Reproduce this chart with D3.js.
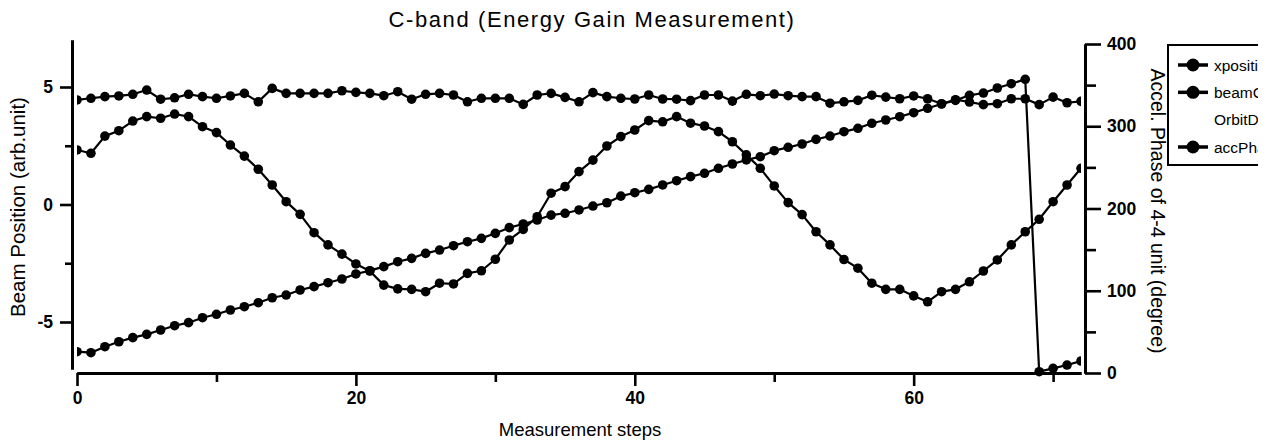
<!DOCTYPE html>
<html>
<head>
<meta charset="utf-8">
<script src="https://cdn.jsdelivr.net/npm/d3@7"></script>
<style>
  html, body { margin: 0; padding: 0; background: #fff; }
  svg { display: block; font-family: "Liberation Sans", Arial, Helvetica, sans-serif; }
</style>
</head>
<body>
<svg id="chart" width="1276" height="448"></svg>
<script>
// Measurement step index for every sample
const steps = d3.range(0, 73);

// Beam position traces (left axis, arb. unit)
const beamCenter = [
  4.45, 4.52, 4.59, 4.62, 4.69, 4.87, 4.48, 4.54, 4.69, 4.59,
  4.52, 4.62, 4.73, 4.37, 4.94, 4.73, 4.73, 4.73, 4.73, 4.84,
  4.77, 4.73, 4.63, 4.80, 4.48, 4.69, 4.73, 4.66, 4.37, 4.52,
  4.52, 4.52, 4.26, 4.66, 4.73, 4.56, 4.37, 4.76, 4.59, 4.52,
  4.49, 4.66, 4.49, 4.48, 4.42, 4.66, 4.66, 4.40, 4.69, 4.63,
  4.70, 4.63, 4.59, 4.59, 4.31, 4.37, 4.43, 4.65, 4.57, 4.50,
  4.62, 4.50, 4.29, 4.46, 4.36, 4.25, 4.29, 4.50, 4.50, 4.25,
  4.57, 4.33, 4.39
];
const xposition = [
  2.32, 2.18, 2.91, 3.14, 3.55, 3.74, 3.67, 3.85, 3.74, 3.31,
  3.06, 2.53, 2.06, 1.50, 0.83, 0.12, -0.42, -1.20, -1.72, -2.11,
  -2.53, -2.83, -3.43, -3.59, -3.61, -3.71, -3.35, -3.38, -2.93, -2.82,
  -2.33, -1.51, -1.06, -0.52, 0.48, 0.76, 1.40, 1.89, 2.49, 2.89,
  3.17, 3.57, 3.52, 3.74, 3.46, 3.34, 3.10, 2.67, 2.11, 1.54,
  0.79, 0.08, -0.43, -1.16, -1.72, -2.34, -2.71, -3.35, -3.61, -3.61,
  -3.89, -4.14, -3.71, -3.61, -3.29, -2.83, -2.36, -1.72, -1.16, -0.63,
  0.12, 0.83, 1.54
];

// Accelerating phase of unit 4-4 (right axis, degree)
const accPhase = [
  25.9, 24.7, 32.0, 38.0, 43.0, 47.0, 52.3, 57.5, 61.2, 67.2,
  71.4, 76.6, 80.6, 85.5, 91.5, 94.8, 100.9, 105.0, 109.8, 114.3,
  120.4, 124.4, 129.3, 135.3, 139.4, 145.5, 149.5, 154.8, 159.6, 163.7,
  169.8, 176.7, 181.2, 186.0, 192.0, 194.2, 198.2, 203.0, 207.0, 215.0,
  219.2, 223.3, 228.6, 233.8, 238.7, 242.8, 248.9, 254.1, 259.0, 263.0,
  270.3, 274.4, 278.4, 284.1, 288.1, 293.4, 297.5, 303.6, 307.6, 311.6,
  316.5, 321.8, 327.0, 331.5, 337.6, 340.4, 346.5, 351.7, 357.1, 1.6,
  5.7, 9.7, 14.6
];

// Axis ticks
const xMajorTicks = [0, 20, 40, 60];
const xMinorTicks = [10, 30, 50, 70];
const yLeftMajorTicks = [-5, 0, 5];
const yLeftMinorTicks = [-2.5, 2.5];
const yRightMajorTicks = [0, 100, 200, 300, 400];
const yRightMinorTicks = [50, 150, 250, 350];

// Legend rows
const legendNames = ["xposition", "beamCenter", "OrbitData", "accPhase"];
const legendHasMarker = [true, true, false, true];

const titleText = "C-band (Energy Gain Measurement)";
const xLabel = "Measurement steps";
const yLeftLabel = "Beam Position (arb.unit)";
const yRightLabel = "Accel. Phase of 4-4 unit (degree)";

// ---------------------------------------------------------------
const svg = d3.select("#chart");
const FONT = '"Liberation Sans", Arial, Helvetica, sans-serif';

const x = d3.scaleLinear().domain([0, 72]).range([77, 1081]);
const yL = d3.scaleLinear().domain([-7, 7]).range([369, 40]);
const yR = d3.scaleLinear().domain([0, 400]).range([373, 44]);

svg.append("rect").attr("width", 1276).attr("height", 448).attr("fill", "#fff");

const defs = svg.append("defs");
defs.append("clipPath").attr("id", "plotClip").append("rect")
  .attr("x", x(0)).attr("y", 34)
  .attr("width", x(72) - x(0)).attr("height", 345);
defs.append("clipPath").attr("id", "legendClip").append("rect")
  .attr("x", 1150).attr("y", 35).attr("width", 108).attr("height", 140);

const plainNumber = d => String(d);

function styleAxis(g) {
  g.attr("font-family", FONT).attr("font-size", 17.5).attr("font-weight", "bold");
  g.selectAll("path.domain").attr("stroke", "#000").attr("stroke-width", 3);
  g.selectAll(".tick line").attr("stroke", "#000").attr("stroke-width", 2.6);
  g.selectAll(".tick text").attr("fill", "#000");
}

// Bottom axis
svg.append("g").attr("transform", "translate(0,373)")
  .call(d3.axisBottom(x).tickValues(xMinorTicks).tickSize(9).tickSizeOuter(0).tickFormat(""))
  .call(styleAxis);
svg.append("g").attr("transform", "translate(0,373)")
  .call(d3.axisBottom(x).tickValues(xMajorTicks).tickSize(13).tickSizeOuter(0)
    .tickPadding(6).tickFormat(plainNumber))
  .call(styleAxis);

// Left axis
svg.append("g").attr("transform", "translate(72,0)")
  .call(d3.axisLeft(yL).tickValues(yLeftMinorTicks).tickSize(7).tickSizeOuter(0).tickFormat(""))
  .call(styleAxis);
svg.append("g").attr("transform", "translate(72,0)")
  .call(d3.axisLeft(yL).tickValues(yLeftMajorTicks).tickSize(12).tickSizeOuter(0)
    .tickPadding(7).tickFormat(plainNumber))
  .call(styleAxis);

// Right axis
svg.append("g").attr("transform", "translate(1085,0)")
  .call(d3.axisRight(yR).tickValues(yRightMinorTicks).tickSize(11).tickSizeOuter(0).tickFormat(""))
  .call(styleAxis);
svg.append("g").attr("transform", "translate(1085,0)")
  .call(d3.axisRight(yR).tickValues(yRightMajorTicks).tickSize(16).tickSizeOuter(0)
    .tickPadding(6).tickFormat(plainNumber))
  .call(styleAxis);

// Data traces
const plot = svg.append("g").attr("clip-path", "url(#plotClip)");

function drawTrace(values, scale) {
  const pts = values.map((v, i) => [x(steps[i]), scale(v)]);
  plot.append("path")
    .attr("d", d3.line()(pts))
    .attr("fill", "none").attr("stroke", "#000")
    .attr("stroke-width", 2.2).attr("stroke-linejoin", "round");
  plot.append("g").selectAll("circle").data(pts).join("circle")
    .attr("cx", d => d[0]).attr("cy", d => d[1]).attr("r", 4.8)
    .attr("fill", "#000");
}
drawTrace(beamCenter, yL);
drawTrace(xposition, yL);
drawTrace(accPhase, yR);

// Titles
svg.append("text").attr("x", 592).attr("y", 27)
  .attr("text-anchor", "middle").attr("font-family", FONT).attr("font-size", 22)
  .attr("letter-spacing", 1.6)
  .text(titleText);
svg.append("text").attr("x", 580).attr("y", 436)
  .attr("text-anchor", "middle").attr("font-family", FONT).attr("font-size", 18.5)
  .text(xLabel);
svg.append("text").attr("transform", "translate(25,207) rotate(-90)")
  .attr("text-anchor", "middle").attr("font-family", FONT).attr("font-size", 20.5)
  .text(yLeftLabel);
svg.append("text").attr("transform", "translate(1151,211) rotate(90)")
  .attr("text-anchor", "middle").attr("font-family", FONT).attr("font-size", 19.5)
  .text(yRightLabel);

// Legend (its right part lies past the clip edge)
const legend = svg.append("g").attr("clip-path", "url(#legendClip)");
legend.append("rect")
  .attr("x", 1168).attr("y", 45).attr("width", 140).attr("height", 120)
  .attr("fill", "#fff").attr("stroke", "#000").attr("stroke-width", 2);
const rowY = d3.scalePoint().domain(legendNames).range([65, 147]);
legendNames.forEach((name, i) => {
  const cy = rowY(name);
  if (legendHasMarker[i]) {
    legend.append("line").attr("x1", 1178).attr("x2", 1208)
      .attr("y1", cy).attr("y2", cy).attr("stroke", "#000").attr("stroke-width", 3.5);
    legend.append("circle").attr("cx", 1193).attr("cy", cy).attr("r", 6.5).attr("fill", "#000");
  }
  legend.append("text").attr("x", 1214).attr("y", cy + 5.5)
    .attr("font-family", FONT).attr("font-size", 15.5).text(name);
});
</script>
</body>
</html>
